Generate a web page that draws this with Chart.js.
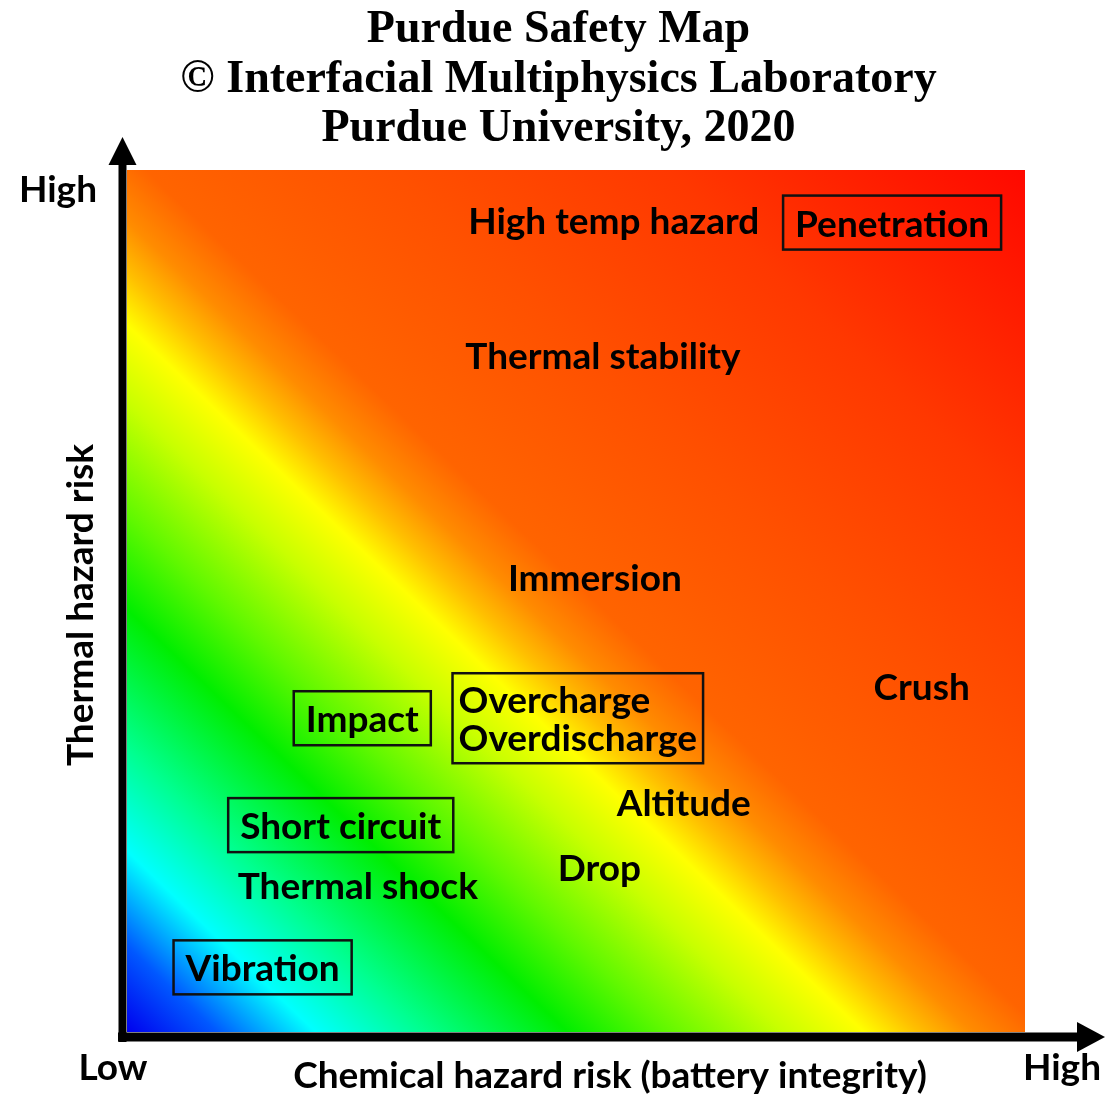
<!DOCTYPE html>
<html lang="en">
<head>
  <meta charset="UTF-8">
  <title>Purdue Safety Map</title>
  <script src="https://cdn.jsdelivr.net/npm/chart.js"></script>
  <style>
    * {
      box-sizing: border-box;
      margin: 0;
      padding: 0;
    }
    body {
      background: #fff;
    }
    #wrap {
      width: 1117px;
      height: 1094px;
    }
  </style>
</head>
<body>
  <div id="wrap">
    <canvas id="safetyMap" width="1117" height="1094"></canvas>
  </div>

  <script>
    // Hazards placed on the map, both axes run 0 (low) .. 10 (high)
    const hazards = [
      'High temp hazard', 'Penetration', 'Thermal stability', 'Immersion', 'Crush',
      'Impact', 'Overcharge\nOverdischarge', 'Altitude', 'Short circuit', 'Drop',
      'Thermal shock', 'Vibration'
    ];
    const chemicalRisk = [5.42, 8.52, 5.30, 5.21, 8.85, 2.62, 5.02, 6.20, 2.38, 5.26, 2.57, 1.51];
    const thermalRisk = [9.42, 9.39, 7.85, 5.28, 4.01, 3.64, 3.64, 2.67, 2.40, 1.91, 1.71, 0.75];
    const boxed = [false, true, false, false, false, true, true, false, true, false, false, true];

    const titleLines = ['Purdue Safety Map', '\u00A9 Interfacial Multiphysics Laboratory', 'Purdue University, 2020'];
    const xTitle = 'Chemical hazard risk (battery integrity)';
    const yTitle = 'Thermal hazard risk';
    const lowLabel = 'Low';
    const highLabel = 'High';

    const LABEL_FONT = 'bold 37px Lato';
    const TITLE_FONT = 'bold 46px "Liberation Serif"';

    // Diagonal rainbow behind the plot area (bands tilted a little flatter than the corner diagonal)
    const gradientPlugin = {
      id: 'riskGradient',
      beforeDatasetsDraw(chart) {
        const { ctx, chartArea: a } = chart;
        const w = a.right - a.left, h = a.bottom - a.top;
        const g = ctx.createLinearGradient(a.left, a.bottom, a.left + h, a.bottom - w);
        g.addColorStop(0.00, '#0000ee');
        g.addColorStop(0.05, '#0058ff');
        g.addColorStop(0.105, '#00ffff');
        g.addColorStop(0.165, '#00ff90');
        g.addColorStop(0.245, '#00ee00');
        g.addColorStop(0.30, '#60f800');
        g.addColorStop(0.365, '#c8ff00');
        g.addColorStop(0.41, '#ffff00');
        g.addColorStop(0.44, '#ffc000');
        g.addColorStop(0.47, '#ff8c00');
        g.addColorStop(0.51, '#ff6400');
        g.addColorStop(0.65, '#ff5000');
        g.addColorStop(0.80, '#ff3800');
        g.addColorStop(1.00, '#ff0800');
        ctx.save();
        ctx.fillStyle = g;
        ctx.fillRect(a.left, a.top, w, h);
        ctx.restore();
      }
    };

    // Text (and optional frame) at each hazard point
    const labelPlugin = {
      id: 'hazardLabels',
      afterDatasetsDraw(chart) {
        const ctx = chart.ctx;
        const meta = chart.getDatasetMeta(0);
        const lineH = 38, padX = 12, padY = 8;
        ctx.save();
        ctx.font = LABEL_FONT;
        ctx.fillStyle = '#000';
        ctx.strokeStyle = '#111';
        ctx.lineWidth = 2.5;
        ctx.textBaseline = 'middle';
        ctx.textAlign = 'left';
        meta.data.forEach((pt, i) => {
          const lines = hazards[i].split('\n');
          const w = Math.max(...lines.map(l => ctx.measureText(l).width));
          const h = lines.length * lineH;
          const left = pt.x - w / 2;
          const top = pt.y - h / 2;
          lines.forEach((l, k) => {
            const lw = lines.length > 1 ? 0 : (w - ctx.measureText(l).width) / 2;
            ctx.fillText(l, left + lw, top + lineH * (k + 0.5) + 2);
          });
          if (boxed[i]) {
            const px = lines.length > 1 ? 6 : padX;
            const py = lines.length > 1 ? 7 : padY;
            ctx.strokeRect(left - px, top - py, w + px * 2, h + py * 2);
          }
        });
        ctx.restore();
      }
    };

    // Title, arrows and axis words
    const framePlugin = {
      id: 'mapFrame',
      afterDraw(chart) {
        const { ctx, chartArea: a } = chart;
        ctx.save();
        ctx.fillStyle = '#000';

        // title
        ctx.font = TITLE_FONT;
        ctx.textAlign = 'center';
        ctx.textBaseline = 'alphabetic';
        titleLines.forEach((t, i) => {
          ctx.fillText(t, chart.width / 2, a.top - 128 + i * 49.5);
        });

        // vertical arrow
        const vx = a.left - 4.5;
        ctx.fillRect(vx - 4, a.top - 8, 8, a.bottom - a.top + 18);
        ctx.beginPath();
        ctx.moveTo(vx, a.top - 33);
        ctx.lineTo(vx + 14, a.top - 5);
        ctx.lineTo(vx - 14, a.top - 5);
        ctx.closePath();
        ctx.fill();

        // horizontal arrow
        const hy = a.bottom + 5;
        ctx.fillRect(a.left - 9, hy - 4.5, a.right - a.left + 64, 9);
        ctx.beginPath();
        ctx.moveTo(a.right + 80, hy);
        ctx.lineTo(a.right + 52, hy - 15);
        ctx.lineTo(a.right + 52, hy + 15);
        ctx.closePath();
        ctx.fill();

        // axis words
        ctx.font = LABEL_FONT;
        ctx.fillText(highLabel, a.left - 69, a.top + 32);
        ctx.fillText(lowLabel, a.left - 14, a.bottom + 48);
        ctx.fillText(highLabel, a.right + 37, a.bottom + 48);
        ctx.fillText(xTitle, 610, a.bottom + 56);

        ctx.translate(a.left - 34, (a.top + a.bottom) / 2 + 4);
        ctx.rotate(-Math.PI / 2);
        ctx.fillText(yTitle, 0, 0);
        ctx.restore();
      }
    };

    window.onload = function() {
      const ctx = document.getElementById('safetyMap').getContext('2d');
      new Chart(ctx, {
        type: 'scatter',
        data: {
          datasets: [{
            label: 'Hazards',
            data: hazards.map((h, i) => ({ x: chemicalRisk[i], y: thermalRisk[i] })),
            pointRadius: 0,
            pointHoverRadius: 0
          }]
        },
        options: {
          responsive: false,
          animation: false,
          events: [],
          layout: {
            padding: { left: 127, right: 92, top: 170, bottom: 62 }
          },
          plugins: {
            legend: { display: false },
            tooltip: { enabled: false }
          },
          scales: {
            x: { display: false, min: 0, max: 10 },
            y: { display: false, min: 0, max: 10 }
          }
        },
        plugins: [gradientPlugin, labelPlugin, framePlugin]
      });
    };
  </script>
</body>
</html>
